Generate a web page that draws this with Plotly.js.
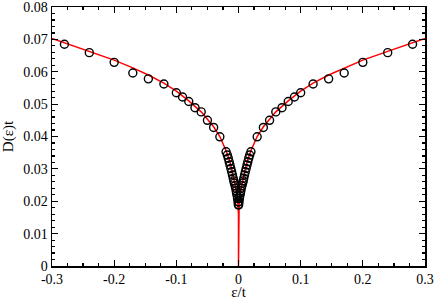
<!DOCTYPE html>
<html>
<head>
<meta charset="utf-8">
<script src="https://cdn.plot.ly/plotly-3.0.1.min.js"></script>
<style>html,body{margin:0;padding:0;background:#fff;}#chart{width:436px;height:300px;}</style>
</head>
<body>
<div id="chart"></div>
<script>
// Numerical data points (open circles)
const epsData = [-0.28, -0.24, -0.20, -0.17, -0.145, -0.12, -0.10, -0.09, -0.08, -0.07, -0.06, -0.05, -0.04, -0.03, -0.02,
  -0.018, -0.0165, -0.015, -0.0137, -0.0123, -0.011, -0.0097, -0.0085, -0.0076, -0.0067, -0.0056, -0.0045, -0.0037, -0.003, -0.0022, -0.0015, -0.0008, -0.0003,
  0.0003, 0.0008, 0.0015, 0.0022, 0.003, 0.0037, 0.0045, 0.0056, 0.0067, 0.0076, 0.0085, 0.0097, 0.011, 0.0123, 0.0137, 0.015, 0.0165, 0.018,
  0.02, 0.03, 0.04, 0.05, 0.06, 0.07, 0.08, 0.09, 0.10, 0.12, 0.145, 0.17, 0.20, 0.24, 0.28];
const dosData = [0.0685, 0.0659, 0.0629, 0.0596, 0.0578, 0.0562, 0.0535, 0.0522, 0.0508, 0.0489, 0.0476, 0.0450, 0.0428, 0.0399, 0.0353,
  0.0343, 0.0333, 0.0322, 0.0312, 0.0301, 0.0291, 0.0281, 0.0271, 0.0263, 0.0256, 0.0248, 0.0240, 0.0232, 0.0225, 0.0217, 0.0208, 0.0198, 0.0189,
  0.0189, 0.0198, 0.0208, 0.0217, 0.0225, 0.0232, 0.0240, 0.0248, 0.0256, 0.0263, 0.0271, 0.0281, 0.0291, 0.0301, 0.0312, 0.0322, 0.0333, 0.0343,
  0.0353, 0.0399, 0.0428, 0.0450, 0.0476, 0.0489, 0.0508, 0.0522, 0.0535, 0.0562, 0.0578, 0.0596, 0.0629, 0.0659, 0.0685];

// Fitted curve (red line)
const epsCurve = [-0.30, -0.28, -0.24, -0.20, -0.17, -0.145, -0.12, -0.10, -0.08, -0.06, -0.04, -0.03, -0.02, -0.015, -0.01, -0.006, -0.003, -0.001, -0.0003, -0.00005,
  0, 0.00005, 0.0003, 0.001, 0.003, 0.006, 0.01, 0.015, 0.02, 0.03, 0.04, 0.06, 0.08, 0.10, 0.12, 0.145, 0.17, 0.20, 0.24, 0.28, 0.30];
const dosCurve = [0.0703, 0.0690, 0.0663, 0.0636, 0.0612, 0.0590, 0.0565, 0.0540, 0.0510, 0.0476, 0.0430, 0.0400, 0.0356, 0.0330, 0.0293, 0.0258, 0.0225, 0.0195, 0.0180, 0.0160,
  0, 0.0160, 0.0180, 0.0195, 0.0225, 0.0258, 0.0293, 0.0330, 0.0356, 0.0400, 0.0430, 0.0476, 0.0510, 0.0540, 0.0565, 0.0590, 0.0612, 0.0636, 0.0663, 0.0690, 0.0703];

const xTickVals = [-0.3, -0.2, -0.1, 0, 0.1, 0.2, 0.3];
const xTickText = ['-0.3', '-0.2', '-0.1', '0', '0.1', '0.2', '0.3'];
const yTickVals = [0, 0.01, 0.02, 0.03, 0.04, 0.05, 0.06, 0.07, 0.08];
const yTickText = ['0', '0.01', '0.02', '0.03', '0.04', '0.05', '0.06', '0.07', '0.08'];

const fontFam = '"Liberation Serif", "Times New Roman", serif';

const traces = [
  {x: epsCurve, y: dosCurve, type: 'scatter', mode: 'lines', line: {color: '#ff0000', width: 1.5}, hoverinfo: 'skip'},
  {x: epsData, y: dosData, type: 'scatter', mode: 'markers', cliponaxis: false,
   marker: {symbol: 'circle-open', size: 8, color: '#000000', line: {width: 1.4, color: '#000000'}}}
];

const axisCommon = {
  showgrid: false, zeroline: false, showline: true, linecolor: '#000', linewidth: 1.5,
  ticks: 'inside', ticklen: 6, tickwidth: 1.2, tickcolor: '#000', mirror: 'allticks',
  tickmode: 'array', ticklabeloverflow: 'allow', tickfont: {family: fontFam, size: 14, color: '#000'}
};

const layout = {
  width: 436, height: 300,
  margin: {l: 52, r: 11, t: 7, b: 34},
  paper_bgcolor: '#fff', plot_bgcolor: '#fff',
  showlegend: false,
  xaxis: Object.assign({}, axisCommon, {
    range: [-0.3, 0.3], tickvals: xTickVals, ticktext: xTickText,
    minor: {dtick: 0.025, tick0: 0, ticks: 'inside', ticklen: 3, tickwidth: 1.2, tickcolor: '#000', showgrid: false},
    title: {text: 'ε/t', font: {family: fontFam, size: 15, color: '#000'}, standoff: 4},
    automargin: false
  }),
  yaxis: Object.assign({}, axisCommon, {
    range: [0, 0.08], tickvals: yTickVals, ticktext: yTickText,
    minor: {dtick: 0.002, tick0: 0, ticks: 'inside', ticklen: 3, tickwidth: 1.2, tickcolor: '#000', showgrid: false},
    title: {text: 'D(ε)t', font: {family: fontFam, size: 15, color: '#000'}, standoff: 6},
    automargin: false
  })
};

Plotly.newPlot('chart', traces, layout, {staticPlot: true, displayModeBar: false});
</script>
</body>
</html>
